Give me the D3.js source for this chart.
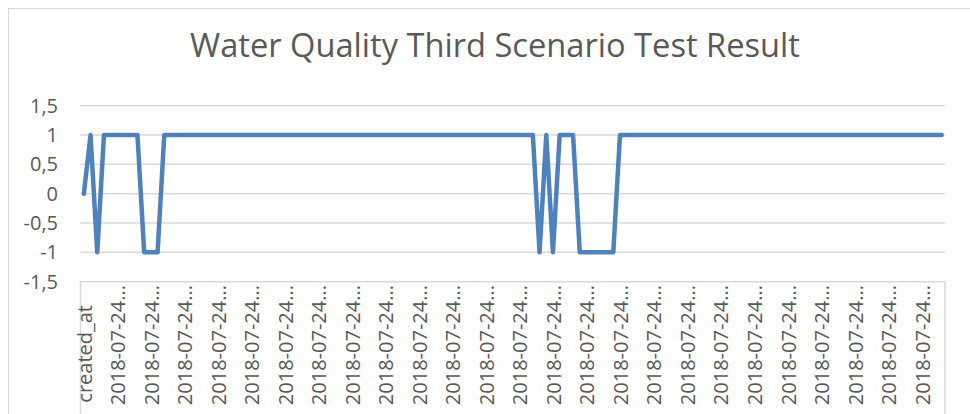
<!DOCTYPE html>
<html lang="en">
<head>
    <meta charset="UTF-8">
    <script src="https://d3js.org/d3.v7.min.js"></script>
    <title>Water Quality Third Scenario Test Result</title>
    <style>
        body { margin: 0; background: #fff; }
        text { font-family: "Open Sans", "Noto Sans", sans-serif; fill: #595959; }
    </style>
</head>
<body>
<div id="viz"></div>
<script>
    // test result per reading (first row is the header "created_at")
    const values = [
        0, 1, -1, 1, 1, 1, 1, 1, 1, -1,
        -1, -1, 1, 1, 1, 1, 1, 1, 1, 1,
        1, 1, 1, 1, 1, 1, 1, 1, 1, 1,
        1, 1, 1, 1, 1, 1, 1, 1, 1, 1,
        1, 1, 1, 1, 1, 1, 1, 1, 1, 1,
        1, 1, 1, 1, 1, 1, 1, 1, 1, 1,
        1, 1, 1, 1, 1, 1, 1, 1, -1, 1,
        -1, 1, 1, 1, -1, -1, -1, -1, -1, -1,
        1, 1, 1, 1, 1, 1, 1, 1, 1, 1,
        1, 1, 1, 1, 1, 1, 1, 1, 1, 1,
        1, 1, 1, 1, 1, 1, 1, 1, 1, 1,
        1, 1, 1, 1, 1, 1, 1, 1, 1, 1,
        1, 1, 1, 1, 1, 1, 1, 1, 1
    ];
    // a label is shown on every 5th category
    const labelEvery = 5;
    const tickLabels = ["created_at"].concat(Array(25).fill("2018-07-24..."));
    const yTicks = [-1.5, -1, -0.5, 0, 0.5, 1, 1.5];
    const title = "Water Quality Third Scenario Test Result";

    const width = 970, height = 414;
    const plot = {left: 80.5, right: 945, top: 105.7, bottom: 281.7};

    const svg = d3.select("#viz")
        .append("svg")
        .attr("width", width)
        .attr("height", height);

    // chart border (only left / top edges are inside the picture)
    svg.append("rect")
        .attr("x", 8.5).attr("y", 8.5)
        .attr("width", 1200).attr("height", 1200)
        .attr("fill", "none")
        .attr("stroke", "#d9d9d9");

    const x = d3.scaleBand()
        .domain(d3.range(values.length))
        .range([plot.left, plot.right]);
    const y = d3.scaleLinear()
        .domain([-1.5, 1.5])
        .range([plot.bottom, plot.top]);

    // gridlines
    svg.append("g")
        .selectAll("line")
        .data(yTicks.filter(d => d > -1.5))
        .join("line")
        .attr("x1", plot.left).attr("x2", plot.right)
        .attr("y1", d => y(d)).attr("y2", d => y(d))
        .attr("stroke", "#d9d9d9")
        .attr("stroke-width", 1.5);

    // y axis labels
    const fmt = d => String(d).replace(".", ",");
    svg.append("g")
        .call(d3.axisLeft(y).tickValues(yTicks).tickSize(0).tickPadding(0).tickFormat(fmt))
        .attr("transform", "translate(58,0)")
        .call(g => g.select(".domain").remove())
        .selectAll("text")
        .attr("font-size", 20)
        .attr("fill", "#595959")
        .attr("font-family", "Open Sans");

    // category axis: line + side lines of the label box
    svg.append("path")
        .attr("d", `M${plot.left},${height}V${plot.bottom}H${plot.right}V${height}`)
        .attr("fill", "none")
        .attr("stroke", "#d9d9d9")
        .attr("stroke-width", 1.5);

    const labelG = svg.append("g");
    tickLabels.forEach((t, j) => {
        const cx = x(j * labelEvery) + x.bandwidth() / 2;
        labelG.append("text")
            .attr("transform", `translate(${cx + 1},${j === 0 ? 305 : 285}) rotate(-90)`)
            .attr("text-anchor", "end")
            .attr("dy", "0.35em")
            .attr("font-size", 20)
            .text(t);
    });

    // the line
    const line = d3.line()
        .x((d, i) => x(i) + x.bandwidth() / 2)
        .y(d => y(d));
    svg.append("path")
        .datum(values)
        .attr("d", line)
        .attr("fill", "none")
        .attr("stroke", "#4f81bd")
        .attr("stroke-width", 4.5)
        .attr("stroke-linejoin", "round")
        .attr("stroke-linecap", "round");

    // title, scaled to the width it has in the original
    const titleText = svg.append("text")
        .attr("x", 495)
        .attr("y", 57)
        .attr("text-anchor", "middle")
        .attr("font-size", 30)
        .text(title);
    const w = titleText.node().getComputedTextLength();
    titleText.attr("font-size", 30 * 610 / w);
</script>
</body>
</html>
